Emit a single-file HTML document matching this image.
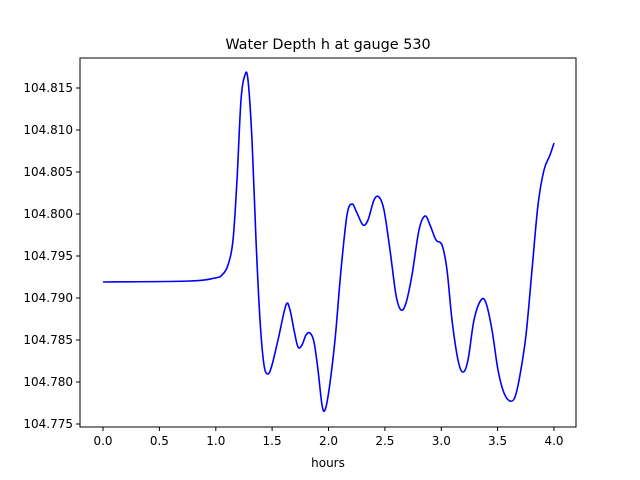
<!DOCTYPE html>
<html><head><style>body{margin:0;background:#fff}svg{display:block}text{font-family:"DejaVu Sans","Liberation Sans",sans-serif;font-size:12px;fill:#000}</style></head>
<body>
<svg width="640" height="480" viewBox="0 0 640 480" xmlns="http://www.w3.org/2000/svg">
<rect width="640" height="480" fill="#fff"/>
<text x="328" y="49" text-anchor="middle" style="font-size:14.4px">Water Depth h at gauge 530</text>
<polyline id="pl" fill="none" stroke="#0000ff" stroke-width="1.6" stroke-linejoin="round" points="103,282 190,281 215,278 222,275 228,265 233,240 237,180 241,100 245,75 248,80 252,140 256,240 260,320 264,365 268,374 272,365 278,340 286,305 290,310 294,330 298,347 302,345 306,335 310,333 314,342 318,370 322,405 325,410 329,390 335,340 341,270 347,215 352,204 357,213 363,225 368,220 374,200 379,197 384,210 390,250 396,295 401,310 406,303 412,275 419,230 425,216 430,225 436,240 442,245 447,270 452,320 458,360 463,372 468,360 474,320 481,300 486,303 492,330 498,370 504,393 510,401 515,397 520,375 526,335 532,270 538,205 544,170 550,155 554,143"/>
<path id="sm" fill="none" stroke="#0000ff" stroke-width="1.6" stroke-linejoin="round" d=""/>
<rect x="80" y="58" width="496" height="369" fill="none" stroke="#000" stroke-width="1"/>
<g stroke="#000" stroke-width="1">
<line x1="103" y1="427" x2="103" y2="431"/><line x1="159.4" y1="427" x2="159.4" y2="431"/><line x1="215.8" y1="427" x2="215.8" y2="431"/><line x1="272.1" y1="427" x2="272.1" y2="431"/><line x1="328.5" y1="427" x2="328.5" y2="431"/><line x1="384.9" y1="427" x2="384.9" y2="431"/><line x1="441.3" y1="427" x2="441.3" y2="431"/><line x1="497.6" y1="427" x2="497.6" y2="431"/><line x1="554" y1="427" x2="554" y2="431"/>
<line x1="76" y1="88" x2="80" y2="88"/><line x1="76" y1="130" x2="80" y2="130"/><line x1="76" y1="172" x2="80" y2="172"/><line x1="76" y1="214" x2="80" y2="214"/><line x1="76" y1="256" x2="80" y2="256"/><line x1="76" y1="298" x2="80" y2="298"/><line x1="76" y1="340" x2="80" y2="340"/><line x1="76" y1="382" x2="80" y2="382"/><line x1="76" y1="424" x2="80" y2="424"/>
</g>
<g text-anchor="middle">
<text x="103" y="445">0.0</text><text x="159.4" y="445">0.5</text><text x="215.8" y="445">1.0</text><text x="272.1" y="445">1.5</text><text x="328.5" y="445">2.0</text><text x="384.9" y="445">2.5</text><text x="441.3" y="445">3.0</text><text x="497.6" y="445">3.5</text><text x="554" y="445">4.0</text>
<text x="328" y="467">hours</text>
</g>
<g text-anchor="end">
<text x="73" y="92">104.815</text><text x="73" y="134">104.810</text><text x="73" y="176">104.805</text><text x="73" y="218">104.800</text><text x="73" y="260">104.795</text><text x="73" y="302">104.790</text><text x="73" y="344">104.785</text><text x="73" y="386">104.780</text><text x="73" y="428">104.775</text>
</g>
</svg>
<script>
(function(){
var pl=document.getElementById('pl');
var p=pl.getAttribute('points').trim().split(/\s+/).map(function(s){return s.split(',').map(Number);});
var d='M'+p[0][0]+','+p[0][1];
for(var i=0;i<p.length-1;i++){
var p0=p[i>0?i-1:i],p1=p[i],p2=p[i+1],p3=p[i+2<p.length?i+2:i+1];
var c1x=p1[0]+(p2[0]-p0[0])/6,c1y=p1[1]+(p2[1]-p0[1])/6;
var c2x=p2[0]-(p3[0]-p1[0])/6,c2y=p2[1]-(p3[1]-p1[1])/6;
d+=' C'+c1x.toFixed(2)+','+c1y.toFixed(2)+' '+c2x.toFixed(2)+','+c2y.toFixed(2)+' '+p2[0]+','+p2[1];
}
document.getElementById('sm').setAttribute('d',d);
pl.setAttribute('stroke','none');
})();
</script>
</body></html>
